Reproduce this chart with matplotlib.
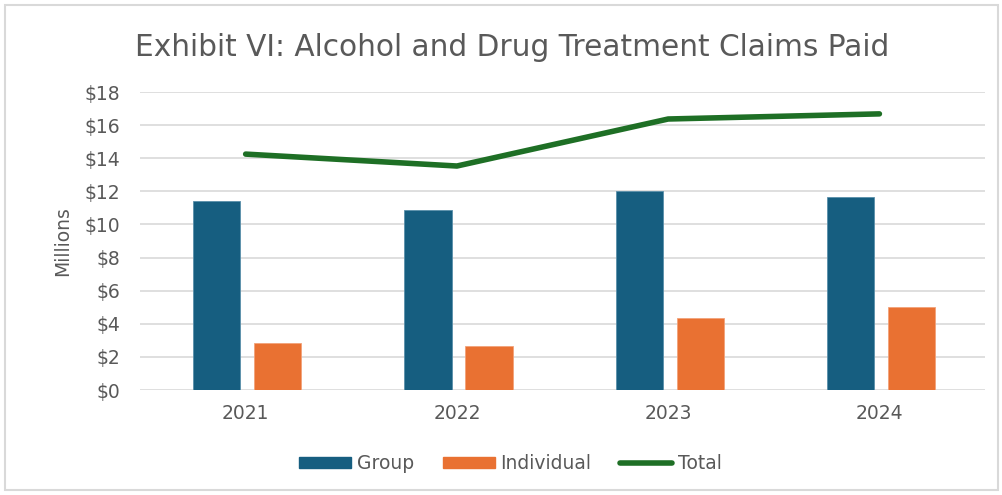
import matplotlib
matplotlib.use("Agg")
import matplotlib.pyplot as plt
from matplotlib.patches import Rectangle
from matplotlib.lines import Line2D
import numpy as np

years = ["2021", "2022", "2023", "2024"]
group = [11.41, 10.87, 12.04, 11.67]
individual = [2.84, 2.66, 4.33, 4.99]
total = [14.25, 13.53, 16.37, 16.68]
yticks = [0, 2, 4, 6, 8, 10, 12, 14, 16, 18]
ytick_labels = ["$0", "$2", "$4", "$6", "$8", "$10", "$12", "$14", "$16", "$18"]

c_group = "#165E80"
c_ind = "#E97132"
c_tot = "#1E6F25"
c_text = "#595959"

plt.rcParams['font.family'] = ['DejaVu Sans']

fig = plt.figure(figsize=(10.03, 4.95), dpi=100)
fig.patches.append(Rectangle((0.005, 0.01), 0.99, 0.98, transform=fig.transFigure,
                             fill=False, edgecolor="#D9D9D9", linewidth=1.5))
ax = fig.add_axes([0.1396, 0.2121, 0.8425, 0.602])

x = np.arange(len(years))
w = 0.223
ax.bar(x - 0.137, group, width=w, color=c_group, edgecolor="#5A8FAA", linewidth=0.6, label="Group", zorder=3)
ax.bar(x + 0.152, individual, width=w, color=c_ind, edgecolor="#F2A27A", linewidth=0.6, label="Individual", zorder=3)
ax.plot(x, total, color=c_tot, linewidth=4, solid_capstyle="round", label="Total", zorder=4)

ax.set_xlim(-0.5, 3.5)
ax.set_ylim(0, 18)
ax.set_yticks(yticks)
ax.set_yticklabels(ytick_labels)
ax.set_xticks(x)
ax.set_xticklabels(years)
ax.tick_params(axis='both', length=0, labelsize=13.5, colors=c_text)
ax.tick_params(axis='y', pad=14)
ax.tick_params(axis='x', pad=10)
ax.grid(axis='y', color="#D9D9D9", linewidth=1.2, zorder=0)
for s in ax.spines.values():
    s.set_visible(False)
ax.set_ylabel("Millions", fontsize=13.5, color=c_text, labelpad=9)

fig.text(0.511, 0.905, "Exhibit VI: Alcohol and Drug Treatment Claims Paid", ha="center", va="center",
         fontsize=21.3, color=c_text)

handles = [Rectangle((0, 0), 1, 1, color=c_group), Rectangle((0, 0), 1, 1, color=c_ind),
           Line2D([0], [0], color=c_tot, linewidth=4, solid_capstyle="round")]
leg = fig.legend(handles, ["Group", "Individual", "Total"], loc="center", bbox_to_anchor=(0.509, 0.063),
                 ncol=3, frameon=False, fontsize=13.5, handlelength=2.77, handleheight=0.53,
                 handletextpad=0.32, columnspacing=1.5, labelcolor=c_text)

fig.savefig("out.png", dpi=100)
